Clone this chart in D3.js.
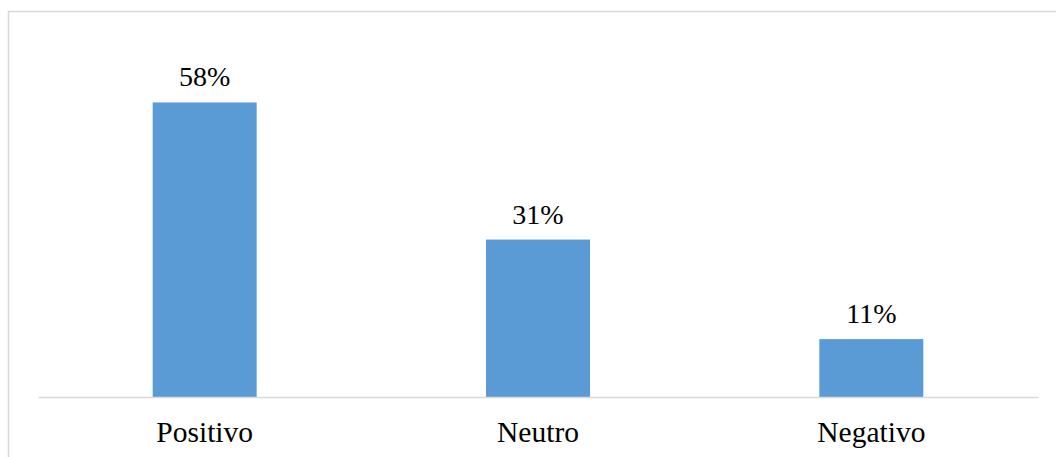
<!DOCTYPE html>
<html>
<head>
<meta charset="utf-8">
<script src="https://cdn.jsdelivr.net/npm/d3@7"></script>
<style>
  html, body { margin: 0; padding: 0; background: #fff; }
  svg { display: block; }
</style>
</head>
<body>
<svg id="chart" width="1056" height="457"></svg>
<script>
const categories = ["Positivo", "Neutro", "Negativo"];
const values = [58, 31, 11.4];
const yDomain = [0, 70];

(function () {
const svg = d3.select("#chart");
const W = 1056, H = 457;

// chart frame
svg.append("rect")
  .attr("x", 8.5).attr("y", 11.5)
  .attr("width", W + 10).attr("height", H + 10)
  .attr("fill", "#fff").attr("stroke", "#d9d9d9").attr("stroke-width", 1.5);

const plotLeft = 38, plotRight = 1038;
const plotBase = 397, plotTop = 41.5;

const x = d3.scaleBand().domain(categories).range([plotLeft, plotRight]).paddingInner(0.688).paddingOuter(0.344);
const y = d3.scaleLinear().domain(yDomain).range([plotBase, plotTop]);

svg.selectAll("rect.bar")
  .data(values)
  .enter().append("rect")
  .attr("class", "bar")
  .attr("x", (d, i) => x(categories[i]))
  .attr("width", x.bandwidth())
  .attr("y", d => y(d))
  .attr("height", d => y(0) - y(d))
  .attr("fill", "#5B9BD5");

// axis
const axis = d3.axisBottom(x).tickSize(0).tickPadding(30);
const gAxis = svg.append("g").attr("transform", `translate(0,${plotBase})`).call(axis);
gAxis.select(".domain").attr("stroke", "#d9d9d9").attr("stroke-width", 1.5);
gAxis.selectAll("text")
  .attr("font-family", "'Liberation Serif', 'Times New Roman', serif")
  .attr("font-size", 29.5).attr("fill", "#000")
  .attr("dy", null).attr("y", 44.5);

const fmt = d3.format(".0f");
svg.selectAll("text.lbl")
  .data(values)
  .enter().append("text")
  .attr("class", "lbl")
  .attr("x", (d, i) => x(categories[i]) + x.bandwidth() / 2)
  .attr("y", d => y(d) - 16)
  .attr("text-anchor", "middle")
  .attr("font-family", "'Liberation Serif', 'Times New Roman', serif")
  .attr("font-size", 28).attr("fill", "#000")
  .text(d => fmt(d) + "%");
})();
</script>
</body>
</html>
